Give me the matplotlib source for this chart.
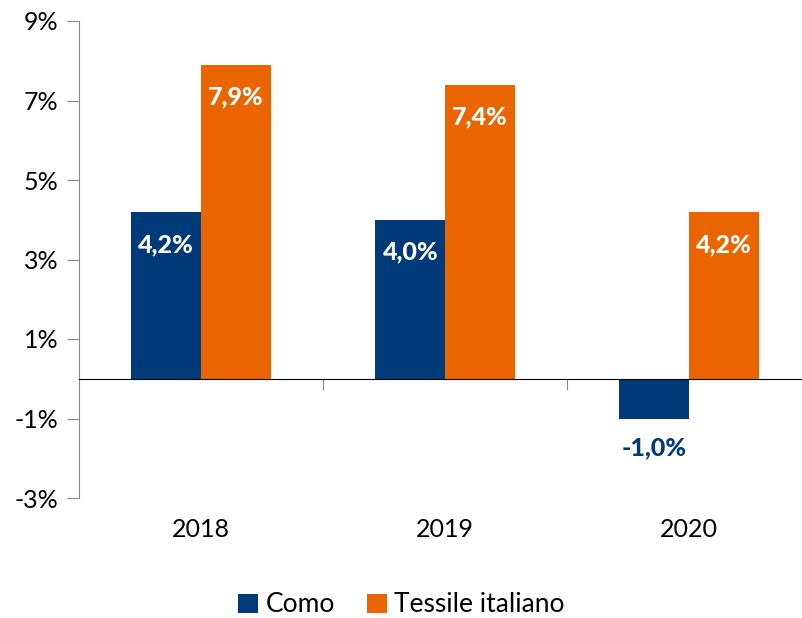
import matplotlib
matplotlib.use("Agg")
from matplotlib import pyplot as plt
import numpy as np

# data
years = ["2018", "2019", "2020"]
como = [4.2, 4.0, -1.0]
tessile = [7.9, 7.4, 4.2]
series_names = ["Como", "Tessile italiano"]
y_ticks = [-3, -1, 1, 3, 5, 7, 9]

blue = "#003A78"
orange = "#EA6500"

plt.rcParams['font.family'] = ['Lato', 'DejaVu Sans']

fig = plt.figure(figsize=(8.03, 6.18), dpi=100)
ax = fig.add_axes([79 / 803, 1 - 498 / 618, 1 - 79 / 803, (498 - 21) / 618])

x = np.arange(len(years))
w = 0.285
b1 = ax.bar(x - w / 2, como, w, color=blue, label=series_names[0])
b2 = ax.bar(x + w / 2, tessile, w, color=orange, label=series_names[1])

ax.set_ylim(-3, 9)
ax.set_xlim(-0.5, 2.467)
ax.set_yticks(y_ticks)
ax.set_yticklabels([f"{t}%" for t in y_ticks], fontsize=18)
ax.tick_params(axis='y', length=9, color="#888888", pad=6)

ax.spines['top'].set_visible(False)
ax.spines['right'].set_visible(False)
ax.spines['left'].set_color("#888888")
ax.spines['bottom'].set_position(('data', 0))
ax.spines['bottom'].set_color("black")

# category boundaries as ticks on the zero line
ax.set_xticks([0.5, 1.5])
ax.set_xticklabels([])
ax.tick_params(axis='x', length=8, color="#888888")

for xi, yr in zip(x, years):
    ax.text(xi, -3.8, yr, ha='center', va='center', fontsize=18, clip_on=False)

for bars in (b1, b2):
    for rect in bars:
        v = rect.get_height() if rect.get_y() >= 0 else rect.get_y()
        cx = rect.get_x() + rect.get_width() / 2
        lab = f"{v:.1f}%".replace(".", ",")
        if v >= 0:
            ax.text(cx, v - 0.82, lab, ha='center', va='center', color='white',
                    fontsize=18, fontweight='black')
        else:
            ax.text(cx, v - 0.73, lab, ha='center', va='center', color=blue,
                    fontsize=18, fontweight='black')

fig.legend(loc='center', bbox_to_anchor=(0.5, 1 - 605 / 618), ncol=2, frameon=False,
           fontsize=19, handlelength=0.75, handleheight=0.75, handletextpad=0.3,
           columnspacing=1.2)

fig.savefig("out.png", dpi=100)
